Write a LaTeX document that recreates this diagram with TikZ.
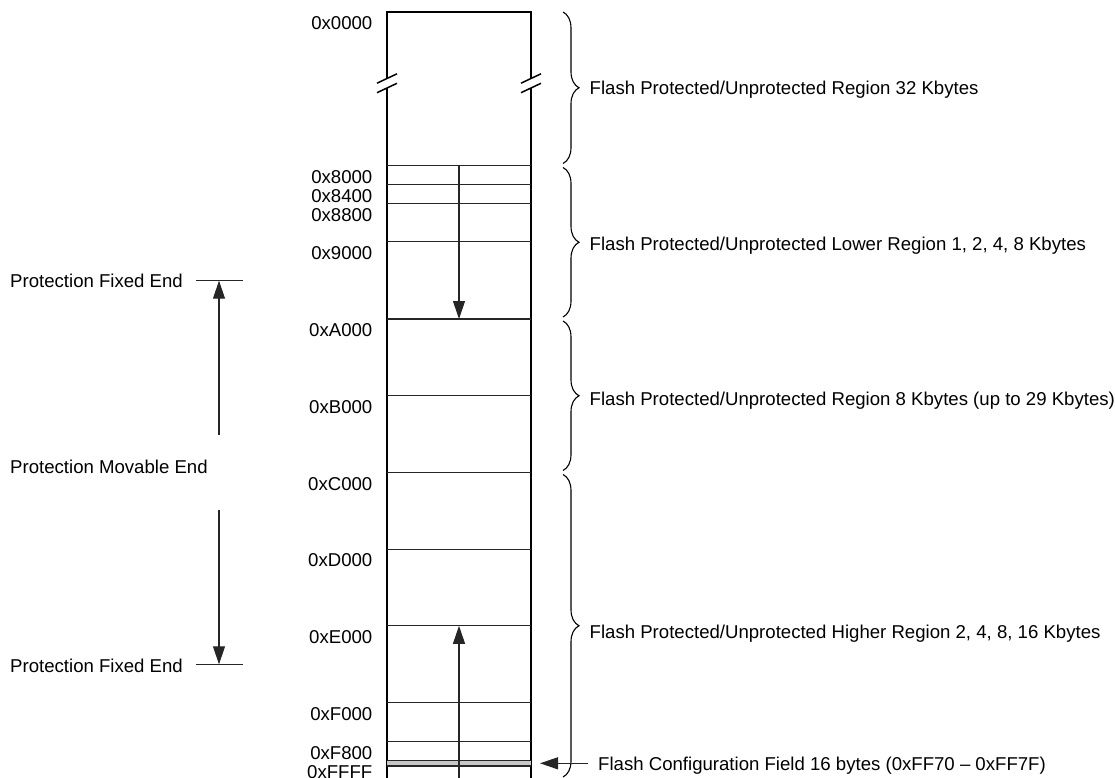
\documentclass[tikz,border=0pt]{standalone}
\usepackage{fontspec}
\setmainfont{Liberation Sans}
\usetikzlibrary{arrows.meta,decorations.pathreplacing}
\begin{document}
\begin{tikzpicture}[x=1pt,y=-1pt,
  txt/.style={inner sep=0pt, font=\fontsize{18.6}{20}\selectfont},
  addr/.style={txt, anchor=base east},
  lbl/.style={txt, anchor=base west},
  boxedge/.style={line width=2pt},
  sepline/.style={line width=1.1pt, black!85},
  arr/.style={line width=1.1pt, black!85, -{Triangle[length=18pt,width=12pt]}},
  brc/.style={decorate, decoration={brace, amplitude=16pt}, line width=1.1pt},
  slashline/.style={line width=1.5pt}]
\useasboundingbox (0,0) rectangle (1115,778);

% memory box
\draw[boxedge] (387,78.5) -- (387,12) -- (531,12) -- (531,78.5);
\draw[boxedge] (387,88) -- (387,780);
\draw[boxedge] (531,88) -- (531,780);
% break marks
\foreach \x in {387,531}{
  \draw[slashline] (\x-10,83.2) -- (\x+10,73.8);
  \draw[slashline] (\x-10,92.7) -- (\x+10,83.3);
}
% separator lines
\foreach \y in {165.7,184.3,203.3,241.7,319,395.7,472.4,549.1,625.8,702.5,741.7}{
  \draw[sepline] (387,\y) -- (531,\y);
}
% configuration field band
\fill[black!22] (387,760.7) rectangle (531,766);
\draw[sepline] (387,760.7) -- (531,760.7);
\draw[sepline] (387,766) -- (531,766);

% address labels
\foreach \y/\t/\n in {12/0x0000/a0000,165.7/0x8000/a8000,184.3/0x8400/a8400,203.3/0x8800/a8800,
  241.7/0x9000/a9000,319/0xA000/aA000,395.7/0xB000/aB000,472.4/0xC000/aC000,549.1/0xD000/aD000,
  625.8/0xE000/aE000,702.5/0xF000/aF000,741.7/0xF800/aF800,760.7/0xFFFF/aFFFF}{
  \node[addr] (\n) at (372.5,{\y+17.8}) {\t};
}

% centre arrows
\coordinate (lowtop) at (459,165.7);
\coordinate (lowend) at (459,319);
\coordinate (hightop) at (459,780);
\coordinate (highend) at (459,625.8);
\draw[arr] (lowtop) -- (lowend);
\draw[arr] (hightop) -- (highend);

% braces
\coordinate (b1s) at (563,12);   \coordinate (b1e) at (563,163.5);
\coordinate (b2s) at (563,167.5); \coordinate (b2e) at (563,317);
\coordinate (b3s) at (563,321);  \coordinate (b3e) at (563,470.5);
\coordinate (b4s) at (563,474.5); \coordinate (b4e) at (563,777);
\draw[brc] (b1s) -- (b1e);
\draw[brc] (b2s) -- (b2e);
\draw[brc] (b3s) -- (b3e);
\draw[brc] (b4s) -- (b4e);

% region labels
\node[lbl] (r1) at (589.5,94.6) {Flash Protected/Unprotected Region 32 Kbytes};
\node[lbl] (r2) at (589.5,250.5) {Flash Protected/Unprotected Lower Region 1, 2, 4, 8 Kbytes};
\node[lbl] (r3) at (589.5,405.5) {Flash Protected/Unprotected Region 8 Kbytes (up to 29 Kbytes)};
\node[lbl] (r4) at (589.5,638.5) {Flash Protected/Unprotected Higher Region 2, 4, 8, 16 Kbytes};
\node[lbl] (cfg) at (598,770) {Flash Configuration Field 16 bytes (0xFF70 -- 0xFF7F)};
\coordinate (cfgstart) at (588,763.3);
\coordinate (cfgtip) at (540,763.3);
\draw[arr] (cfgstart) -- (cfgtip);

% left side
\node[lbl] (pf1) at (10,287.7) {Protection Fixed End};
\node[lbl] (pm) at (10,473.3) {Protection Movable End};
\node[lbl] (pf2) at (10,672.7) {Protection Fixed End};
\coordinate (t1a) at (196,280.7); \coordinate (t1b) at (243,280.7);
\coordinate (t2a) at (196,664.3); \coordinate (t2b) at (243,664.3);
\draw[sepline] (t1a) -- (t1b);
\draw[sepline] (t2a) -- (t2b);
\coordinate (up1) at (219,435);
\coordinate (up1tip) at (219,280.7);
\coordinate (dn1) at (219,510);
\coordinate (dn1tip) at (219,664.3);
\draw[arr] (up1) -- (up1tip);
\draw[arr] (dn1) -- (dn1tip);
\end{tikzpicture}
\end{document}
